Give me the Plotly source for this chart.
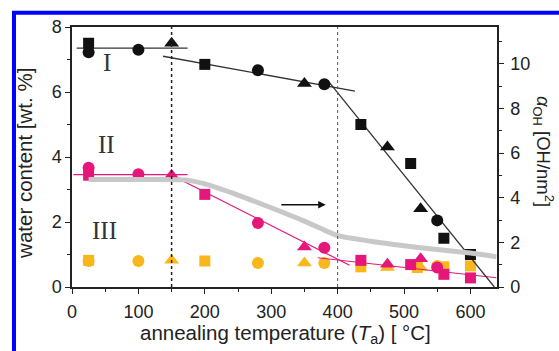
import plotly.graph_objects as go

# ---------------- data ----------------
# Group I (black)
blk_sq_x = [25, 200, 435, 510, 560, 600]
blk_sq_y = [7.5, 6.85, 5.0, 3.8, 1.5, 1.0]
blk_ci_x = [25, 100, 280, 380, 550]
blk_ci_y = [7.22, 7.3, 6.67, 6.24, 2.05]
blk_tr_x = [150, 350, 475, 525]
blk_tr_y = [7.5, 6.26, 4.31, 2.41]
blk_fitA_x = [7, 174]
blk_fitA_y = [7.35, 7.35]
blk_fitB_x = [137, 426]
blk_fitB_y = [7.1, 6.03]
blk_fitC_x = [385, 636]
blk_fitC_y = [6.36, 0.0]

# Group II (pink)
pk_sq_x = [25, 200, 435, 510, 560, 600]
pk_sq_y = [3.44, 2.85, 0.82, 0.69, 0.39, 0.28]
pk_ci_x = [25, 100, 280, 380, 550]
pk_ci_y = [3.67, 3.47, 1.97, 1.21, 0.6]
pk_tr_x = [150, 350, 475, 525]
pk_tr_y = [3.44, 1.23, 0.70, 0.87]
pk_fit1_x = [2, 174]
pk_fit1_y = [3.46, 3.46]
pk_fit2_x = [150, 418]
pk_fit2_y = [3.44, 0.67]
pk_fit3_x = [370, 639]
pk_fit3_y = [0.90, 0.285]

# Group III (yellow)
ye_sq_x = [25, 200, 435, 520, 560, 600]
ye_sq_y = [0.82, 0.80, 0.62, 0.60, 0.62, 0.65]
ye_ci_x = [25, 100, 280, 380, 550]
ye_ci_y = [0.80, 0.80, 0.74, 0.74, 0.65]
ye_tr_x = [150, 350, 475, 525]
ye_tr_y = [0.82, 0.74, 0.60, 0.60]

# Grey curve (right axis, alpha_OH)
grey_x = [25, 100, 170, 200, 250, 300, 350, 380, 400, 450, 500, 550, 600, 639]
grey_y = [4.82, 4.82, 4.80, 4.62, 4.12, 3.55, 2.95, 2.55, 2.30, 2.05, 1.85, 1.68, 1.52, 1.36]

vlines_x = [150, 400]
x_ticks = [0, 100, 200, 300, 400, 500, 600]
yl_ticks = [0, 2, 4, 6, 8]
yr_ticks = [0, 2, 4, 6, 8, 10]

BLACK = "#111111"
PINK = "#E5177B"
YELLOW = "#F8B71A"
FONT = "Liberation Sans"

fig = go.Figure()

# grey curve on right axis
fig.add_trace(go.Scatter(x=grey_x, y=grey_y, yaxis="y2", mode="lines",
                         line=dict(color="#C8C8C8", width=5, shape="spline", smoothing=0.6),
                         hoverinfo="skip"))

def line(x, y, color, w=1.3):
    fig.add_trace(go.Scatter(x=x, y=y, mode="lines", line=dict(color=color, width=w)))

def pts(x, y, color, sym, size):
    fig.add_trace(go.Scatter(x=x, y=y, mode="markers",
                             marker=dict(color=color, symbol=sym, size=size,
                                         line=dict(width=0))))

# yellow (bottom)
pts(ye_sq_x, ye_sq_y, YELLOW, "square", 11)
pts(ye_ci_x, ye_ci_y, YELLOW, "circle", 12)
pts(ye_tr_x, ye_tr_y, YELLOW, "triangle-up", 13)

# pink
line(pk_fit1_x, pk_fit1_y, PINK, 1.2)
line(pk_fit2_x, pk_fit2_y, PINK, 1.2)
line(pk_fit3_x, pk_fit3_y, PINK, 1.2)
pts(pk_sq_x, pk_sq_y, PINK, "square", 11)
pts(pk_ci_x, pk_ci_y, PINK, "circle", 12)
pts(pk_tr_x, pk_tr_y, PINK, "triangle-up", 13)

# black
line(blk_fitA_x, blk_fitA_y, "#333333")
line(blk_fitB_x, blk_fitB_y, "#333333")
line(blk_fitC_x, blk_fitC_y, "#333333")
pts(blk_sq_x, blk_sq_y, BLACK, "square", 11)
pts(blk_ci_x, blk_ci_y, BLACK, "circle", 12)
pts(blk_tr_x, blk_tr_y, BLACK, "triangle-up", 13)

shapes = []
# vertical dotted lines
shapes.append(dict(type="line", xref="x", yref="y", x0=vlines_x[0], x1=vlines_x[0], y0=0, y1=8,
                   line=dict(color="#222222", width=1.5, dash="dot")))
shapes.append(dict(type="line", xref="x", yref="y", x0=vlines_x[1], x1=vlines_x[1], y0=0, y1=8,
                   line=dict(color="#555555", width=1, dash="dot")))
# blue frame (left and top edges)
shapes.append(dict(type="line", xref="paper", yref="paper", x0=-0.1365, x1=-0.1365, y0=-0.4, y1=1.055,
                   line=dict(color="#0000FF", width=4)))
shapes.append(dict(type="line", xref="paper", yref="paper", x0=-0.1412, x1=1.3, y0=1.055, y1=1.055,
                   line=dict(color="#0000FF", width=4)))

serif = dict(family="Liberation Serif", size=25, color="#333333")
annotations = [
    dict(x=52, y=6.9, xref="x", yref="y", text="I", showarrow=False, font=serif),
    dict(x=52, y=4.4, xref="x", yref="y", text="II", showarrow=False, font=serif),
    dict(x=49, y=1.74, xref="x", yref="y", text="III", showarrow=False, font=serif),
    # arrow
    dict(x=382, y=2.53, ax=313, ay=2.53, xref="x", yref="y", axref="x", ayref="y",
         text="", showarrow=True, arrowhead=2, arrowsize=1, arrowwidth=1.5, arrowcolor="#111111"),
    # axis titles
    dict(x=-0.112, y=0.475, xref="paper", yref="paper", xanchor="center", yanchor="middle",
         text="water content [wt. %]",
         textangle=-90, showarrow=False, font=dict(family=FONT, size=20.5, color="#222222")),
    dict(x=1.108, y=0.52, xref="paper", yref="paper", xanchor="center", yanchor="middle",
         text="<i>α</i><sub>OH</sub> [OH/nm<sup>2</sup>]",
         textangle=90, showarrow=False, font=dict(family=FONT, size=18.5, color="#222222")),
    dict(x=0.503, y=-0.18, xref="paper", yref="paper", xanchor="center", yanchor="middle",
         text="annealing temperature (<i>T</i><sub>a</sub>) [ °C]",
         showarrow=False, font=dict(family=FONT, size=20.5, color="#222222")),
]

axis_common = dict(showgrid=False, zeroline=False, showline=True, linecolor="#222222",
                   linewidth=1.5, ticks="outside", ticklen=5, tickwidth=1.3,
                   tickcolor="#222222", tickfont=dict(family=FONT, size=18, color="#222222"))

fig.update_layout(
    width=559, height=351,
    margin=dict(l=72, r=62, t=27, b=64),
    paper_bgcolor="white", plot_bgcolor="white",
    showlegend=False,
    xaxis=dict(range=[0, 640], tickvals=x_ticks, mirror=True, ticklabelstandoff=3,
               minor=dict(dtick=50, tick0=0, ticklen=3, ticks="outside", tickcolor="#222222"),
               **axis_common),
    yaxis=dict(range=[0, 8], tickvals=yl_ticks,
               minor=dict(dtick=1, tick0=0, ticklen=3, ticks="outside", tickcolor="#222222"),
               **axis_common),
    yaxis2=dict(range=[0, 11.65], tickvals=yr_ticks, overlaying="y", side="right",
                ticklabelstandoff=3,
                minor=dict(dtick=1, tick0=0, ticklen=3, ticks="outside", tickcolor="#222222"),
                **axis_common),
    shapes=shapes,
    annotations=annotations,
)

fig.write_html("out.html")
